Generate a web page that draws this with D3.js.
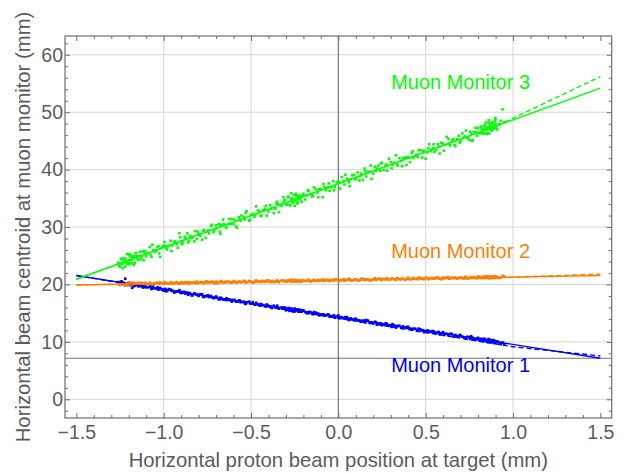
<!DOCTYPE html>
<html>
<head>
<meta charset="utf-8">
<script src="https://cdn.jsdelivr.net/npm/d3@7"></script>
<style>
  html, body { margin: 0; padding: 0; background: #fff; }
  svg { display: block; font-family: "Liberation Sans", Arial, sans-serif; }
</style>
</head>
<body>
<svg id="chart" width="628" height="474"></svg>
<script>
// Scan A: proton beam position at the target (mm), shared by all three monitors
const xPos = [
  -1.26,-1.25,-1.24,-1.24,-1.23,-1.22,-1.22,-1.21,-1.20,-1.20,
  -1.19,-1.19,-1.18,-1.17,-1.17,-1.16,-1.15,-1.14,-1.13,-1.12,
  -1.11,-1.10,-1.08,-1.07,-1.06,-1.04,-1.03,-1.02,-1.00,-0.99,
  -0.98,-0.96,-0.95,-0.94,-0.92,-0.91,-0.90,-0.89,-0.88,-0.86,
  -0.85,-0.84,-0.82,-0.81,-0.80,-0.78,-0.77,-0.75,-0.74,-0.73,
  -0.71,-0.70,-0.68,-0.67,-0.66,-0.64,-0.63,-0.61,-0.60,-0.58,
  -0.57,-0.56,-0.54,-0.53,-0.51,-0.50,-0.48,-0.47,-0.45,-0.44,
  -0.42,-0.41,-0.39,-0.38,-0.36,-0.35,-0.34,-0.32,-0.31,-0.30,
  -0.29,-0.28,-0.27,-0.27,-0.26,-0.25,-0.25,-0.24,-0.23,-0.22,
  -0.21,-0.20,-0.18,-0.17,-0.15,-0.14,-0.12,-0.11,-0.09,-0.08,
  -0.06,-0.05,-0.03,-0.02, 0.00, 0.01, 0.03, 0.04, 0.06, 0.07,
   0.09, 0.10, 0.12, 0.13, 0.15, 0.16, 0.18, 0.19, 0.21, 0.22,
   0.24, 0.25, 0.27, 0.28, 0.30, 0.31, 0.33, 0.34, 0.36, 0.37,
   0.39, 0.40, 0.42, 0.43, 0.45, 0.46, 0.48, 0.49, 0.51, 0.52,
   0.54, 0.55, 0.57, 0.58, 0.60, 0.61, 0.63, 0.64, 0.66, 0.67,
   0.69, 0.70, 0.72, 0.73, 0.75, 0.76, 0.77, 0.79, 0.80, 0.81,
   0.82, 0.83, 0.84, 0.84, 0.85, 0.86, 0.86, 0.87, 0.87, 0.88,
   0.88, 0.89, 0.89, 0.90, 0.90, 0.91, 0.92, 0.93, 0.94, 0.95
];

// Scan A: Muon Monitor 1 centroid (mm)
const mm1 = [
  20.4,20.1,20.3,20.5,20.1,21.0,19.9,20.2,20.0,20.3,
  19.9,20.2,19.4,20.0,19.7,19.9,20.0,19.7,19.8,19.5,
  19.8,19.5,19.6,19.2,19.7,19.3,19.1,19.4,18.9,19.2,
  18.9,19.1,18.9,18.6,18.8,19.0,18.5,18.6,18.7,18.2,
  18.5,18.1,18.4,18.2,18.0,18.3,17.8,18.0,17.8,18.0,
  17.7,17.9,17.4,17.6,17.4,17.6,17.3,17.0,17.3,17.0,
  17.2,16.9,17.0,16.6,17.0,16.7,16.5,16.8,16.3,16.5,
  16.2,16.5,16.2,15.9,16.1,16.3,15.8,15.8,16.0,15.5,
  15.8,15.4,15.8,15.6,15.4,15.8,15.3,15.6,15.3,15.6,
  15.3,15.5,15.0,15.2,14.9,15.2,14.9,14.6,14.8,14.6,
  14.8,14.4,14.5,14.2,14.6,14.3,14.1,14.3,13.8,14.1,
  13.8,14.0,13.7,13.5,13.7,13.8,13.3,13.4,13.5,13.0,
  13.2,12.9,13.2,13.0,12.8,13.1,12.5,12.8,12.5,12.7,
  12.4,12.6,12.1,12.3,12.0,12.3,12.0,11.7,12.0,11.7,
  11.9,11.6,11.7,11.3,11.7,11.4,11.2,11.4,10.9,11.2,
  10.9,11.1,10.8,10.6,10.8,11.0,10.5,10.5,10.7,10.2,
  10.5,10.1,10.5,10.3,10.1,10.5,10.0,10.2,10.0,10.3,
  10.1,10.2, 9.8,10.1, 9.9,10.1, 9.9, 9.6, 9.9, 9.6
];

// Scan A: Muon Monitor 2 centroid (mm)
const mm2 = [
  20.1,19.9,20.1,20.2,19.9,20.2,20.1,20.0,20.3,20.1,
  20.0,20.2,20.1,20.3,20.0,20.1,20.2,20.0,20.3,20.1,
  20.2,20.0,20.3,20.1,20.1,20.3,20.2,20.4,20.1,20.3,
  20.2,20.4,20.1,20.3,20.2,20.1,20.4,20.2,20.4,20.2,
  20.4,20.3,20.2,20.5,20.3,20.4,20.2,20.5,20.3,20.4,
  20.2,20.5,20.4,20.6,20.3,20.4,20.5,20.3,20.6,20.4,
  20.5,20.4,20.6,20.3,20.6,20.5,20.4,20.7,20.5,20.6,
  20.5,20.7,20.4,20.6,20.5,20.7,20.4,20.7,20.6,20.5,
  20.7,20.6,20.8,20.5,20.7,20.6,20.8,20.5,20.7,20.6,
  20.5,20.7,20.6,20.8,20.6,20.8,20.7,20.6,20.9,20.7,
  20.8,20.6,20.7,20.9,20.7,20.6,20.9,20.8,21.0,20.7,
  20.8,20.9,20.7,21.0,20.8,20.9,20.7,20.8,21.1,20.9,
  21.0,20.8,20.9,21.1,20.9,21.0,20.8,21.1,20.9,21.0,
  20.9,21.2,20.9,21.1,21.0,21.2,21.0,20.9,21.1,21.0,
  21.1,21.0,21.2,21.0,21.2,21.1,21.3,21.0,21.1,21.2,
  21.1,21.2,21.0,21.3,21.1,21.3,21.2,21.1,21.4,21.2,
  21.3,21.2,21.4,21.1,21.3,21.2,21.1,21.4,21.2,21.3,
  21.2,21.3,21.1,21.4,21.2,21.3,21.1,21.2,21.5,21.4
];

// Scan A: Muon Monitor 3 centroid (mm)
const mm3 = [
  23.8,23.1,24.5,23.5,23.9,23.1,24.5,25.3,23.8,24.2,
  23.6,24.9,24.6,23.4,24.9,25.5,24.4,24.9,24.4,25.8,
  25.4,24.9,26.5,24.8,26.0,25.9,26.7,24.8,26.8,26.6,
  26.1,27.6,26.8,27.4,26.4,28.9,27.5,27.3,28.3,27.3,
  28.5,28.1,29.3,27.9,28.8,27.8,29.5,29.3,28.9,30.2,
  29.4,30.3,29.2,30.4,31.3,29.9,30.5,31.4,30.5,29.9,
  31.7,31.1,31.8,32.5,31.1,32.1,31.8,33.6,32.7,32.0,
  33.2,32.0,33.8,33.3,33.2,34.4,32.6,34.1,34.6,34.0,
  35.2,33.8,34.8,35.9,34.2,34.8,33.7,35.4,35.1,34.8,
  34.4,35.8,35.5,36.3,35.3,36.9,36.0,36.6,35.2,37.0,
  36.9,36.3,38.0,37.0,38.0,36.7,38.0,39.1,37.8,38.3,
  39.1,38.4,38.1,39.3,40.2,38.8,39.6,38.4,40.5,40.2,
  39.8,41.2,40.7,39.8,41.3,40.8,42.5,40.7,41.5,42.0,
  40.8,42.2,42.9,42.0,42.6,43.4,42.1,43.3,43.0,44.4,
  43.7,43.1,44.4,42.8,44.5,44.3,45.4,44.2,45.3,44.1,
  45.9,45.0,45.6,46.8,45.2,46.3,45.1,46.5,47.2,46.4,
  47.1,46.3,47.8,47.0,46.2,47.3,48.6,47.0,47.8,46.8,
  48.2,47.5,47.1,47.9,48.7,47.0,47.9,48.5,50.5,48.3
];

// Scan B: proton beam position at the target (mm)
const xPosB = [
  -1.255,-1.245,-1.235,-1.225,-1.215,-1.205,-1.195,-1.185,-1.175,-1.165,
  -1.155,-1.145,-1.135,-1.125,-1.115,-1.105,-1.090,-1.075,-1.065,-1.050,
  -1.035,-1.025,-1.010,-0.995,-0.985,-0.970,-0.955,-0.935,-0.925,-0.905,
  -0.895,-0.875,-0.865,-0.855,-0.835,-0.825,-0.805,-0.790,-0.775,-0.760,
  -0.745,-0.725,-0.715,-0.695,-0.685,-0.675,-0.655,-0.645,-0.625,-0.615,
  -0.595,-0.585,-0.565,-0.555,-0.535,-0.525,-0.505,-0.490,-0.475,-0.460,
  -0.445,-0.430,-0.415,-0.400,-0.385,-0.370,-0.355,-0.345,-0.325,-0.315,
  -0.305,-0.295,-0.285,-0.275,-0.265,-0.255,-0.245,-0.235,-0.225,-0.215,
  -0.205,-0.190,-0.175,-0.160,-0.145,-0.130,-0.115,-0.100,-0.085,-0.070,
  -0.055,-0.040,-0.025,-0.010, 0.005, 0.020, 0.035, 0.050, 0.065, 0.080,
   0.095, 0.110, 0.125, 0.140, 0.155, 0.170, 0.185, 0.200, 0.215, 0.230,
   0.245, 0.260, 0.275, 0.290, 0.305, 0.320, 0.335, 0.350, 0.365, 0.380,
   0.395, 0.410, 0.425, 0.440, 0.455, 0.470, 0.485, 0.500, 0.515, 0.530,
   0.545, 0.560, 0.575, 0.590, 0.605, 0.620, 0.635, 0.650, 0.665, 0.680,
   0.695, 0.710, 0.725, 0.740, 0.755, 0.765, 0.775, 0.785, 0.795, 0.805,
   0.815, 0.825, 0.835, 0.845, 0.855, 0.865, 0.875, 0.885, 0.895, 0.905,
   0.818, 0.832, 0.848, 0.852, 0.862, 0.868, 0.878, 0.883, 0.892, 0.898,
  -1.228,-1.212,-1.198,-1.182,-1.168,-0.268,-0.258,-0.242,-0.232,-0.218
];

// Scan B: Muon Monitor 1 centroid (mm)
const mm1B = [
  20.2,20.5,20.2,20.0,20.2,20.1,19.9,20.2,19.9,20.0,
  19.9,19.7,20.0,19.7,19.5,19.7,19.5,19.7,19.3,19.3,
  19.5,19.2,19.1,19.2,18.8,19.2,18.9,18.7,18.8,18.6,
  18.7,18.4,18.6,18.4,18.1,18.4,18.2,18.3,17.9,18.0,
  18.1,17.8,17.6,17.7,17.4,17.7,17.4,17.3,17.4,17.3,
  17.3,17.0,17.2,17.0,16.7,16.9,16.7,16.9,16.5,16.5,
  16.6,16.4,16.2,16.3,16.0,16.3,16.0,15.9,16.0,15.8,
  15.9,15.6,15.9,15.6,15.4,15.6,15.5,15.6,15.3,15.3,
  15.5,15.2,15.0,15.2,14.8,15.1,14.9,14.7,14.8,14.6,
  14.7,14.4,14.6,14.4,14.1,14.3,14.1,14.3,13.9,13.9,
  14.0,13.8,13.6,13.7,13.4,13.7,13.4,13.2,13.4,13.2,
  13.2,13.0,13.2,12.9,12.6,12.9,12.7,12.8,12.4,12.5,
  12.6,12.3,12.2,12.3,11.9,12.2,12.0,11.8,11.9,11.8,
  11.8,11.5,11.7,11.5,11.2,11.4,11.3,11.4,11.0,11.0,
  11.2,10.9,10.7,10.9,10.5,10.8,10.6,10.4,10.6,10.4,
  10.5,10.2,10.5,10.2,10.0,10.3,10.1,10.3, 9.9,10.0,
  10.3,10.5,10.2,10.0,10.3,10.3,10.0,10.1,10.2, 9.9,
  20.3,19.9,20.1,20.2,19.8,15.7,15.3,15.5,15.6,15.3
];

// Scan B: Muon Monitor 2 centroid (mm)
const mm2B = [
  20.0,20.2,20.1,19.9,20.2,20.0,20.1,20.3,20.0,20.2,
  20.1,20.3,20.0,20.2,20.1,20.3,20.1,20.2,20.0,20.2,
  20.3,20.1,20.2,20.4,20.2,20.1,20.3,20.2,20.4,20.2,
  20.3,20.2,20.4,20.1,20.3,20.4,20.2,20.4,20.3,20.5,
  20.3,20.5,20.4,20.2,20.4,20.5,20.3,20.5,20.4,20.3,
  20.5,20.3,20.5,20.4,20.6,20.4,20.5,20.3,20.6,20.5,
  20.4,20.6,20.5,20.7,20.5,20.4,20.6,20.5,20.7,20.6,
  20.6,20.5,20.7,20.6,20.8,20.5,20.6,20.7,20.5,20.6,
  20.7,20.6,20.8,20.5,20.7,20.6,20.8,20.7,20.6,20.8,
  20.6,20.8,20.7,20.9,20.7,20.8,20.6,20.8,20.9,20.7,
  20.9,20.7,20.8,21.0,20.8,20.9,20.7,20.9,20.8,21.0,
  20.8,21.0,20.9,20.8,21.0,20.9,21.1,20.9,21.0,20.8,
  21.0,20.9,21.1,21.0,20.9,21.1,21.0,21.2,20.9,21.1,
  21.0,21.2,21.1,20.9,21.1,21.2,21.0,21.2,21.1,21.0,
  21.2,21.1,21.3,21.0,21.2,21.1,21.3,21.2,21.1,21.3,
  21.2,21.1,21.3,21.2,21.4,21.1,21.3,21.2,21.3,21.2,
  21.1,21.3,21.2,21.4,21.2,21.1,21.3,21.2,21.4,21.2,
  20.1,20.0,20.2,20.1,20.0,20.6,20.7,20.5,20.7,20.6
];

// Scan B: Muon Monitor 3 centroid (mm)
const mm3B = [
  23.3,24.4,22.8,24.3,24.0,23.5,25.3,24.2,25.0,23.8,
  25.0,24.3,25.7,24.9,24.2,25.8,25.5,25.2,26.9,25.7,
  26.5,25.4,26.5,27.4,26.3,26.7,25.8,27.5,27.0,28.2,
  27.0,28.1,28.9,27.6,28.3,27.5,29.2,28.5,29.3,28.1,
  29.4,30.4,29.1,29.8,30.5,28.8,30.5,30.0,31.4,30.6,
  31.3,30.1,31.3,32.0,31.3,32.8,31.3,32.3,32.1,32.9,
  31.9,32.9,33.7,32.7,33.2,32.4,34.1,34.0,33.7,35.2,
  34.7,33.9,35.3,33.8,35.0,35.6,34.6,34.1,35.5,35.2,
  35.5,34.8,36.4,35.7,35.5,36.6,35.2,36.6,37.5,36.4,
  37.6,36.9,36.4,37.8,37.7,38.7,37.4,38.4,37.1,39.0,
  38.3,39.5,38.9,38.2,39.7,39.6,40.7,39.3,39.8,40.7,
  41.1,39.9,40.9,41.9,40.2,41.2,41.0,42.0,40.6,42.1,
  42.1,41.3,43.2,42.4,42.2,43.4,43.2,41.9,43.7,43.2,
  44.4,43.4,44.0,44.7,43.3,45.7,44.5,45.1,44.3,45.3,
  44.7,46.3,45.8,45.5,46.6,45.0,46.5,47.3,45.9,46.4,
  47.5,47.0,46.3,48.2,47.1,46.3,47.9,47.5,48.4,47.3,
  46.4,47.5,47.3,46.4,48.2,47.6,47.2,48.2,47.7,49.0,
  24.5,23.7,25.1,23.7,24.7,35.0,34.3,35.8,34.3,35.4
];

// Straight-line fits over the full scan range (solid)
const fitX = [-1.5, 1.5];
const fit1 = [21.55, 7.15];
const fit2 = [19.9, 21.55];
const fit3 = [20.9, 54.2];

// Alternative fits (dashed)
const altX1 = [-1.5, 1.0, 1.5], alt1 = [21.55, 9.15, 7.55];
const altX2 = [-1.5, 1.0, 1.5], alt2 = [19.9, 21.28, 21.8];
const altX3 = [-1.5, 0.9, 1.5], alt3 = [20.9, 47.5, 56.2];

// Monitor labels and colours
const monitorNames = ["Muon Monitor 1", "Muon Monitor 2", "Muon Monitor 3"];
const monitorColors = ["#0000ff", "#ff7f00", "#00ff00"];
const labelX = [0.7, 0.7, 0.7];
const labelY = [6.0, 25.9, 55.2];

// Axis ticks
const xMajor = [-1.5, -1.0, -0.5, 0.0, 0.5, 1.0, 1.5];
const xMinor = d3.range(-15, 16).filter(v => v % 5 !== 0).map(v => v / 10);
const yMajor = [0, 10, 20, 30, 40, 50, 60];
const yMinor = d3.range(-2, 63, 2).filter(v => v % 10 !== 0);
const xGrid = [-1.0, -0.5, 0.0, 0.5, 1.0];
const yGrid = yMajor;
const axisOriginY = 7.15;

const xTitle = "Horizontal proton beam position at target (mm)";
const yTitle = "Horizontal beam centroid at muon monitor (mm)";

const scans = [
  { xs: xPos, m: [mm1, mm2, mm3] },
  { xs: xPosB, m: [mm1B, mm2B, mm3B] }
];
const series = [0, 1, 2].map(k => ({
  name: monitorNames[k], color: monitorColors[k],
  points: scans.flatMap(s => s.xs.map((xv, i) => [xv, s.m[k][i]])),
  fit: fitX.map((v, i) => [v, [fit1, fit2, fit3][k][i]]),
  alt: [altX1, altX2, altX3][k].map((v, i) => [v, [alt1, alt2, alt3][k][i]]),
  lx: labelX[k], ly: labelY[k]
}));

const svg = d3.select("#chart");
const frame = { left: 65, right: 611.7, top: 36, bottom: 418 };
const frameColor = "#6d6d6d";
const labelColor = "#5c5c5c";
const dot = 2.6;

const x = d3.scaleLinear().domain([-1.565, 1.565]).range([frame.left, frame.right]);
const y = d3.scaleLinear().domain([-3.26, 63.27]).range([frame.bottom, frame.top]);

// Grid
const grid = svg.append("g");
grid.selectAll("line.gx").data(xGrid).join("line")
  .attr("x1", d => x(d)).attr("x2", d => x(d))
  .attr("y1", frame.top).attr("y2", frame.bottom)
  .attr("stroke", "#d6d6d6").attr("stroke-width", 1);
grid.selectAll("line.gy").data(yGrid).join("line")
  .attr("x1", frame.left).attr("x2", frame.right)
  .attr("y1", d => y(d)).attr("y2", d => y(d))
  .attr("stroke", "#d6d6d6").attr("stroke-width", 1);

// Axes through the origin
svg.append("line")
  .attr("x1", x(0)).attr("x2", x(0)).attr("y1", frame.top).attr("y2", frame.bottom)
  .attr("stroke", "#737373").attr("stroke-width", 1.1);
svg.append("line")
  .attr("x1", frame.left).attr("x2", frame.right).attr("y1", y(axisOriginY)).attr("y2", y(axisOriginY))
  .attr("stroke", "#737373").attr("stroke-width", 1.1);

// Scatter points
const pts = svg.append("g");
series.forEach(s => {
  pts.append("g").selectAll("rect").data(s.points).join("rect")
    .attr("x", d => x(d[0]) - dot / 2).attr("y", d => y(d[1]) - dot / 2)
    .attr("width", dot).attr("height", dot)
    .attr("fill", s.color);
});

// Fit lines
const line = d3.line().x(d => x(d[0])).y(d => y(d[1]));
series.forEach(s => {
  svg.append("path").datum(s.alt)
    .attr("d", line).attr("fill", "none").attr("stroke", s.color)
    .attr("stroke-width", 1.4).attr("stroke-dasharray", "5,3");
  svg.append("path").datum(s.fit)
    .attr("d", line).attr("fill", "none").attr("stroke", s.color)
    .attr("stroke-width", 1.4);
});

// Monitor labels
svg.append("g").selectAll("text").data(series).join("text")
  .attr("x", d => x(d.lx)).attr("y", d => y(d.ly)).attr("dy", "0.35em")
  .attr("text-anchor", "middle").attr("fill", d => d.color)
  .attr("font-size", 20).text(d => d.name);

// Frame ticks
function styleAxis(g) {
  g.select(".domain").remove();
  g.selectAll(".tick line").attr("stroke", frameColor);
  g.selectAll(".tick text").attr("fill", labelColor).attr("font-size", 19.5)
    .attr("font-family", "'Liberation Sans', Arial, sans-serif");
}
const fmtX = d3.format(".1f");
const fmtY = d3.format("d");

svg.append("g").attr("transform", `translate(0,${frame.bottom})`)
  .call(d3.axisBottom(x).tickValues(xMajor).tickSize(-5).tickPadding(7).tickFormat(fmtX)).call(styleAxis);
svg.append("g").attr("transform", `translate(0,${frame.bottom})`)
  .call(d3.axisBottom(x).tickValues(xMinor).tickSize(-3).tickFormat("")).call(styleAxis);
svg.append("g").attr("transform", `translate(0,${frame.top})`)
  .call(d3.axisTop(x).tickValues(xMajor).tickSize(-5).tickFormat("")).call(styleAxis);
svg.append("g").attr("transform", `translate(0,${frame.top})`)
  .call(d3.axisTop(x).tickValues(xMinor).tickSize(-3).tickFormat("")).call(styleAxis);

svg.append("g").attr("transform", `translate(${frame.left},0)`)
  .call(d3.axisLeft(y).tickValues(yMajor).tickSize(-5).tickPadding(2).tickFormat(fmtY)).call(styleAxis);
svg.append("g").attr("transform", `translate(${frame.left},0)`)
  .call(d3.axisLeft(y).tickValues(yMinor).tickSize(-3).tickFormat("")).call(styleAxis);
svg.append("g").attr("transform", `translate(${frame.right},0)`)
  .call(d3.axisRight(y).tickValues(yMajor).tickSize(-5).tickFormat("")).call(styleAxis);
svg.append("g").attr("transform", `translate(${frame.right},0)`)
  .call(d3.axisRight(y).tickValues(yMinor).tickSize(-3).tickFormat("")).call(styleAxis);

// Frame border
svg.append("rect")
  .attr("x", frame.left).attr("y", frame.top)
  .attr("width", frame.right - frame.left).attr("height", frame.bottom - frame.top)
  .attr("fill", "none").attr("stroke", frameColor).attr("stroke-width", 1.2);

// Axis titles
svg.append("text")
  .attr("x", (frame.left + frame.right) / 2).attr("y", 466.5)
  .attr("text-anchor", "middle").attr("fill", labelColor).attr("font-size", 20.3)
  .text(xTitle);
svg.append("text")
  .attr("transform", `translate(30,${(frame.top + frame.bottom) / 2}) rotate(-90)`)
  .attr("text-anchor", "middle").attr("fill", labelColor).attr("font-size", 20.3)
  .text(yTitle);
</script>
</body>
</html>
